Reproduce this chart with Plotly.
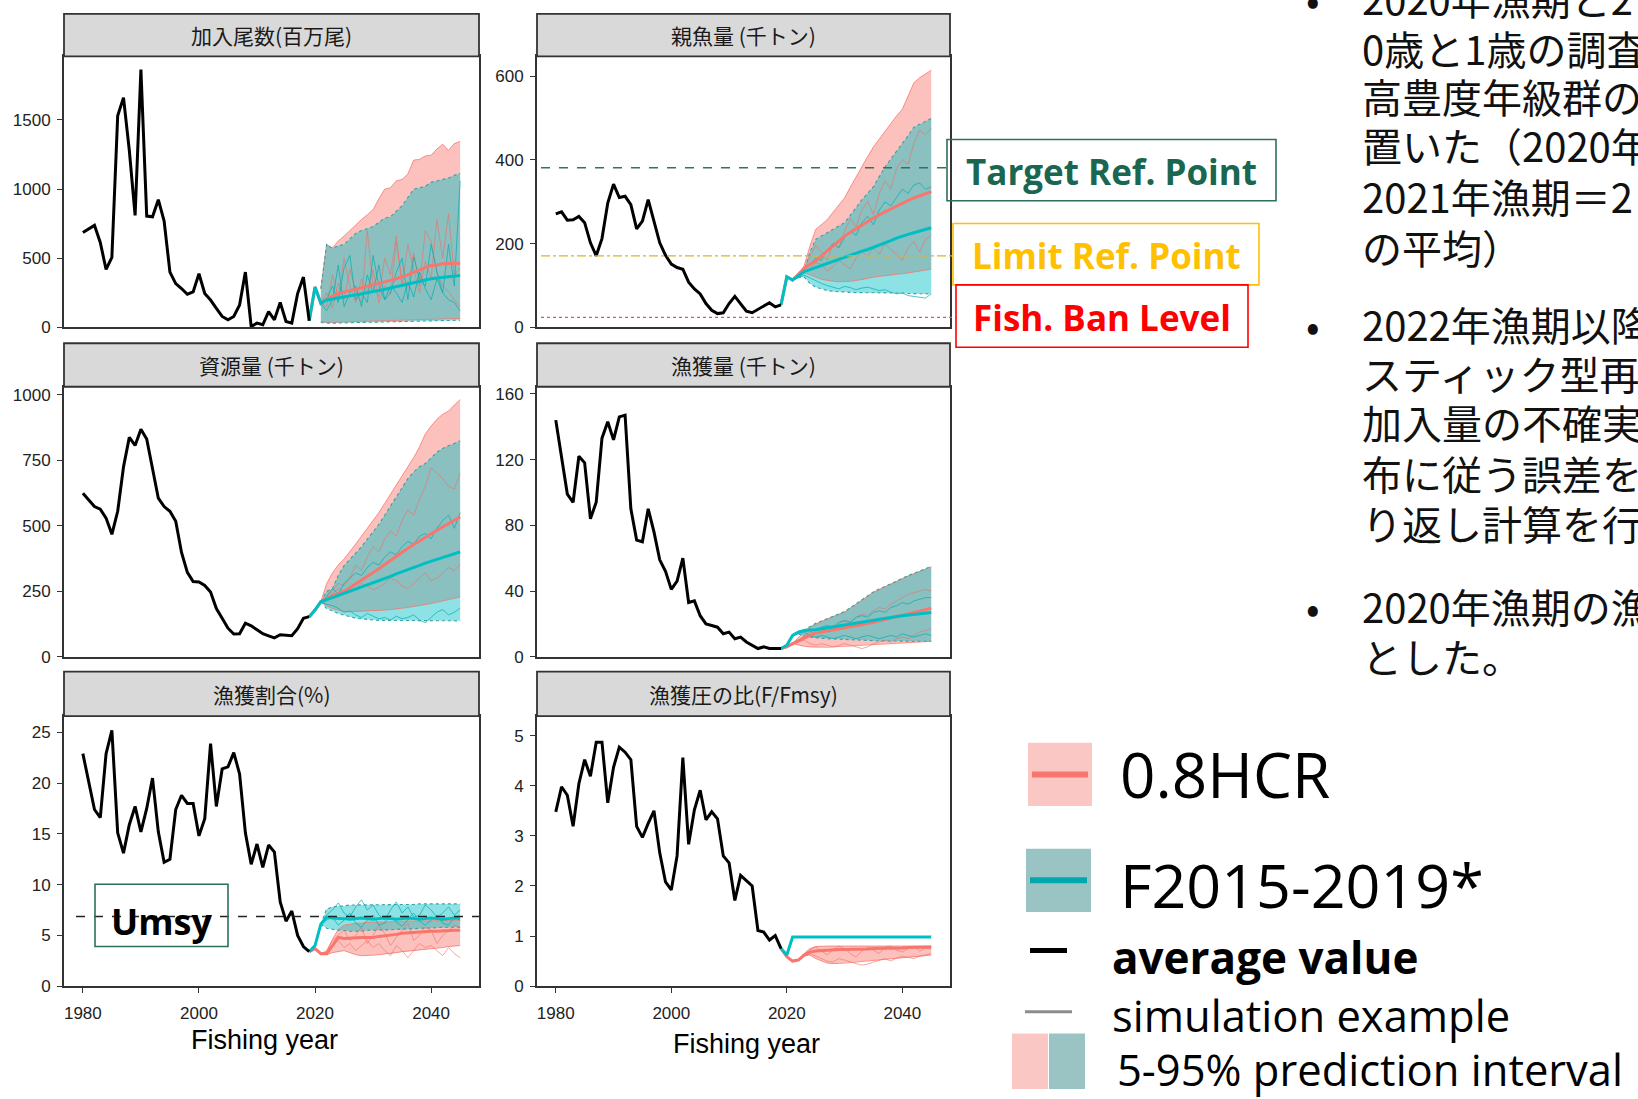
import plotly.graph_objects as go

# ---------------- data ----------------
HIST_YEARS = list(range(1980, 2020))
PROJ_YEARS = list(range(2019, 2046))
BAND_YEARS = list(range(2021, 2046))
X_TICKS = [1980, 2000, 2020, 2040]

PANEL_TITLES = ["加入尾数(百万尾)", "親魚量 (千トン)", "資源量 (千トン)",
                "漁獲量 (千トン)", "漁獲割合(%)", "漁獲圧の比(F/Fmsy)"]

# 1 recruitment
rec_hist = [686, 714, 738, 614, 419, 507, 1531, 1662, 1281, 810,
            1864, 805, 800, 924, 769, 400, 317, 281, 240, 257,
            388, 245, 198, 138, 79, 55, 79, 162, 400, 7,
            31, 19, 114, 55, 181, 43, 31, 245, 364, 48]
rec_teal = [48, 293, 174, 198, 205, 214, 221, 228, 235, 242, 250, 257, 265, 275,
            285, 295, 305, 313, 322, 332, 342, 352, 358, 362, 368, 372, 376]
rec_red = [48, 293, 174, 205, 225, 245, 255, 265, 278, 290, 298, 305, 315, 328,
           340, 352, 364, 380, 400, 415, 430, 448, 452, 460, 462, 465, 464]
rec_red_up = [280, 600, 575, 625, 660, 700, 745, 780, 815, 852, 930, 1000, 1010,
              1060, 1070, 1110, 1210, 1215, 1240, 1245, 1290, 1325, 1280, 1330, 1345]
rec_red_lo = [40, 35, 35, 38, 40, 40, 42, 42, 45, 45, 48, 48, 50, 50, 52, 52, 55,
              55, 58, 58, 60, 60, 62, 62, 65]
rec_teal_up = [280, 600, 570, 590, 600, 640, 680, 700, 715, 730, 760, 790, 800, 840,
               880, 940, 1000, 1010, 1020, 1050, 1060, 1075, 1080, 1100, 1115]
rec_teal_lo = [35, 30, 30, 32, 33, 33, 35, 35, 36, 36, 38, 38, 40, 40, 42, 42, 44,
               44, 46, 46, 48, 48, 50, 50, 52]
rec_red_sim1 = [174, 250, 140, 320, 200, 420, 260, 180, 700, 300, 220, 500, 380,
                660, 300, 600, 420, 250, 480, 350, 780, 500, 820, 380, 430]
rec_red_sim2 = [174, 150, 380, 220, 500, 300, 180, 350, 250, 420, 180, 300, 240,
                620, 330, 280, 540, 300, 700, 620, 400, 300, 260, 200, 150]
rec_teal_sim1 = [174, 200, 300, 180, 430, 520, 200, 250, 180, 520, 300, 200, 250,
                 400, 500, 200, 510, 350, 300, 600, 400, 250, 600, 300, 1060]
rec_teal_sim2 = [174, 120, 200, 450, 150, 250, 300, 150, 380, 250, 450, 200, 300,
                 250, 180, 330, 220, 400, 280, 200, 350, 250, 200, 180, 120]

# 2 spawning biomass
ssb_hist = [271, 276, 256, 257, 265, 250, 202, 171, 212, 297,
            342, 310, 313, 293, 235, 254, 305, 250, 202, 172,
            151, 143, 139, 108, 92, 80, 57, 41, 33, 35,
            57, 74, 57, 39, 35, 43, 49, 59, 49, 54]
ssb_teal = [54, 121, 113, 124, 133, 138, 143, 148, 153, 158, 163, 168, 172, 177,
            182, 186, 191, 196, 202, 207, 213, 218, 222, 226, 230, 234, 238]
ssb_red = [54, 121, 113, 126, 141, 150, 159, 171, 183, 195, 206, 218, 227, 236,
           245, 253, 261, 269, 276, 284, 291, 297, 303, 309, 314, 319, 324]
ssb_red_up = [113, 126, 147, 194, 234, 246, 257, 275, 292, 309, 335, 360, 383, 408,
              431, 450, 470, 488, 505, 521, 552, 584, 596, 605, 614]
ssb_red_lo = [113, 124, 131, 125, 120, 115, 112, 110, 109, 109, 110, 112, 114, 117,
              120, 122, 123, 125, 127, 128, 130, 132, 134, 136, 139]
ssb_teal_up = [113, 124, 135, 180, 210, 218, 226, 234, 242, 250, 268, 287, 305, 320,
               336, 360, 383, 402, 420, 439, 458, 478, 485, 492, 499]
ssb_teal_lo = [113, 120, 120, 105, 96, 92, 88, 86, 85, 84, 84, 83, 83, 83, 83, 83,
               82, 82, 82, 82, 81, 81, 80, 80, 80]
ssb_red_sim1 = [113, 125, 140, 170, 195, 180, 160, 200, 190, 230, 260, 240, 280,
                300, 270, 320, 350, 330, 380, 400, 390, 440, 470, 460, 475]
ssb_red_sim2 = [113, 120, 130, 140, 155, 150, 135, 145, 160, 150, 140, 165, 180,
                170, 190, 175, 200, 185, 175, 160, 190, 205, 180, 210, 220]
ssb_teal_sim1 = [113, 125, 138, 150, 165, 160, 185, 200, 190, 215, 230, 220, 250,
                 265, 245, 280, 300, 290, 310, 330, 320, 340, 345, 330, 335]
ssb_teal_sim2 = [113, 118, 125, 118, 110, 105, 100, 96, 92, 98, 95, 90, 94, 96, 92,
                 88, 90, 84, 80, 82, 76, 74, 72, 70, 80]
TARGET_RP = 381
LIMIT_RP = 171
BAN_RP = 24

# 3 total biomass
bio_hist = [624, 598, 573, 563, 529, 467, 555, 724, 837, 806,
            868, 831, 724, 605, 573, 555, 517, 398, 322, 287,
            285, 272, 247, 184, 147, 109, 87, 88, 128, 118,
            103, 88, 80, 72, 84, 82, 80, 107, 147, 153]
bio_teal = [153, 178, 210, 218, 226, 233, 240, 248, 256, 265, 273, 282, 290, 299,
            307, 316, 325, 333, 341, 349, 357, 365, 372, 379, 386, 393, 400]
bio_red = [153, 178, 210, 222, 233, 241, 250, 263, 277, 291, 305, 320, 336, 352,
           368, 384, 400, 414, 428, 442, 456, 470, 483, 496, 508, 521, 533]
bio_red_up = [210, 279, 320, 350, 373, 400, 430, 460, 490, 517, 550, 585, 620, 655,
              686, 720, 760, 800, 850, 880, 906, 925, 937, 960, 981]
bio_red_lo = [210, 195, 184, 178, 172, 172, 173, 173, 174, 174, 176, 178, 180, 182,
              184, 188, 192, 195, 199, 203, 208, 213, 218, 223, 228]
bio_teal_up = [210, 250, 260, 310, 348, 370, 395, 420, 448, 473, 505, 540, 575, 610,
               649, 680, 705, 725, 737, 760, 780, 795, 805, 815, 824]
bio_teal_lo = [210, 184, 175, 165, 159, 153, 147, 145, 142, 140, 139, 139, 138, 138,
               138, 138, 137, 137, 137, 137, 137, 137, 137, 137, 137]
bio_red_sim1 = [210, 230, 250, 280, 270, 300, 350, 330, 380, 420, 400, 450, 480,
                460, 520, 560, 540, 600, 650, 720, 700, 680, 650, 640, 700]
bio_red_sim2 = [210, 220, 240, 260, 250, 245, 260, 280, 270, 255, 265, 280, 300,
                290, 270, 260, 280, 300, 320, 290, 300, 320, 340, 330, 350]
bio_teal_sim1 = [210, 230, 260, 240, 280, 300, 320, 310, 340, 360, 350, 380, 400,
                 390, 420, 440, 430, 460, 470, 450, 490, 520, 540, 490, 550]
bio_teal_sim2 = [210, 200, 195, 185, 170, 175, 160, 150, 165, 155, 145, 150, 140,
                 155, 145, 150, 160, 140, 130, 150, 170, 180, 160, 170, 185]

# 4 catch
cat_hist = [144, 122, 99, 94, 122, 118, 84, 94, 133, 143,
            132, 146, 147, 90, 71, 70, 90, 76, 59, 52,
            41, 46, 60, 33, 34, 25, 20, 19, 18, 14,
            15, 11, 12, 9, 7, 5, 6, 5, 5, 5]
cat_teal = [5, 7, 13, 15, 16, 16.2, 16.5, 17.1, 17.7, 18.3, 18.9, 19.5, 20.1, 20.7,
            21.3, 21.9, 22.5, 23.0, 23.5, 24.0, 24.5, 25.0, 25.4, 25.8, 26.2, 26.6, 27.0]
cat_red = [5, 6, 8, 9.5, 11.4, 13, 14.4, 15.0, 15.6, 16.2, 16.8, 17.4, 18.1, 18.8,
           19.5, 20.2, 21.0, 21.9, 22.8, 23.7, 24.6, 25.5, 26.3, 27.1, 27.9, 28.7, 29.5]
cat_red_up = [8, 12, 15.5, 18.0, 20.0, 21.5, 23.0, 24.4, 25.8, 27.2, 29.6, 32.0, 34.4,
              36.8, 39.2, 40.9, 42.6, 44.3, 46.0, 47.7, 49.1, 50.5, 51.9, 53.3, 54.7]
cat_red_lo = [8, 7, 6.4, 6.0, 5.8, 5.8, 5.8, 6.0, 6.2, 6.4, 6.6, 6.8, 7.0, 7.2, 7.4,
              7.6, 7.8, 8.0, 8.2, 8.4, 8.6, 8.8, 9.0, 9.2, 9.4]
cat_teal_up = [13, 15.5, 16.4, 18.4, 20.4, 21.8, 23.2, 24.6, 26.0, 27.5, 29.9, 32.3,
               34.7, 37.1, 39.5, 41.2, 42.9, 44.6, 46.3, 48.0, 49.4, 50.8, 52.2, 53.6, 55.0]
cat_teal_lo = [13, 14, 12.4, 11.9, 11.4, 11.2, 11.0, 10.8, 10.6, 10.4, 10.3, 10.2,
               10.1, 10.0, 9.8, 9.7, 9.6, 9.6, 9.5, 9.4, 9.4, 9.4, 9.4, 9.4, 9.4]
cat_red_sim1 = [8, 10, 13, 15, 14, 16, 18, 17, 20, 22, 21, 24, 26, 25, 28, 30, 29,
                32, 34, 36, 38, 39, 40, 41, 40]
cat_red_sim2 = [8, 9, 10, 8, 7, 8, 7, 6, 7, 8, 7, 6, 5, 6, 8, 9, 10, 9, 11, 12, 11,
                13, 15, 16, 17]
cat_teal_sim1 = [13, 15, 16, 17, 16, 18, 19, 18, 21, 22, 21, 24, 25, 24, 27, 28, 27,
                 30, 31, 33, 32, 34, 35, 36, 36]
cat_teal_sim2 = [13, 14, 15, 13, 12, 13, 12, 11, 12, 13, 12, 11, 12, 13, 12, 11, 12,
                 13, 12, 14, 13, 12, 13, 14, 13]

# 5 exploitation rate (%)
u_hist = [22.9, 20.1, 17.4, 16.6, 22.9, 25.2, 15.1, 13.1, 15.9, 17.7,
          15.2, 17.5, 20.5, 15.2, 12.2, 12.5, 17.4, 18.8, 18.0, 18.0,
          14.8, 16.5, 23.9, 17.7, 21.4, 21.6, 23.0, 20.9, 15.1, 12.0,
          14.0, 11.7, 13.9, 13.2, 8.3, 6.4, 7.4, 5.0, 3.9, 3.4]
u_teal = [3.4, 4.0, 6.1, 6.8, 6.7, 6.7, 6.65, 6.6, 6.65, 6.7, 6.65, 6.6, 6.65, 6.7,
          6.65, 6.6, 6.65, 6.7, 6.65, 6.6, 6.65, 6.7, 6.65, 6.6, 6.65, 6.7, 6.65]
u_red = [3.4, 3.7, 3.2, 3.2, 4.0, 4.8, 4.7, 4.75, 4.8, 4.8, 4.8, 4.8, 4.9, 4.95, 5.0,
         5.1, 5.2, 5.25, 5.3, 5.3, 5.35, 5.4, 5.4, 5.45, 5.5, 5.5, 5.5]
u_red_up = [3.2, 3.4, 4.6, 5.6, 6.0, 6.1, 6.2, 6.2, 6.3, 6.3, 6.3, 6.3, 6.35, 6.35,
            6.4, 6.4, 6.4, 6.4, 6.4, 6.4, 6.45, 6.45, 6.5, 6.5, 6.5]
u_red_lo = [3.2, 3.1, 3.3, 3.4, 3.5, 3.3, 3.1, 3.0, 3.0, 3.05, 3.1, 3.15, 3.2, 3.3,
            3.4, 3.45, 3.5, 3.55, 3.6, 3.7, 3.75, 3.8, 3.9, 3.95, 4.0]
u_teal_up = [6.1, 7.6, 7.8, 7.9, 7.9, 8.0, 8.0, 8.0, 8.0, 8.0, 8.0, 8.0, 8.0, 8.0,
             8.05, 8.05, 8.05, 8.1, 8.1, 8.1, 8.1, 8.1, 8.1, 8.1, 8.1]
u_teal_lo = [6.1, 5.7, 5.6, 5.5, 5.5, 5.4, 5.4, 5.4, 5.5, 5.5, 5.5, 5.5, 5.55, 5.6,
             5.6, 5.6, 5.65, 5.7, 5.7, 5.7, 5.75, 5.8, 5.8, 5.8, 5.8]
u_red_sim1 = [3.2, 3.5, 4.5, 5.0, 5.5, 4.5, 5.0, 5.8, 4.2, 5.0, 6.0, 5.2, 4.0, 4.8,
              5.5, 6.2, 4.5, 5.0, 5.8, 5.5, 4.2, 5.0, 5.5, 6.0, 5.8]
u_red_sim2 = [3.2, 3.3, 4.0, 4.5, 3.8, 4.2, 3.5, 4.0, 4.5, 3.8, 4.2, 3.5, 3.0, 4.0,
              3.5, 2.8, 3.5, 4.2, 3.8, 4.0, 3.5, 3.0, 3.8, 3.2, 2.8]
u_teal_sim1 = [6.1, 7.0, 7.5, 8.2, 7.2, 6.8, 7.8, 8.5, 7.5, 8.0, 7.0, 6.5, 7.5, 8.3,
               7.2, 7.8, 6.8, 7.0, 8.0, 7.5, 6.8, 7.2, 7.8, 7.0, 7.5]
u_teal_sim2 = [6.1, 6.5, 6.8, 6.0, 6.5, 7.2, 6.2, 5.8, 6.5, 7.0, 6.0, 6.2, 7.0, 6.3,
               5.9, 6.6, 7.2, 6.4, 6.0, 6.5, 7.0, 6.2, 6.0, 6.8, 6.5]
UMSY = 6.86

# 6 F/Fmsy
f_hist = [3.48, 3.98, 3.81, 3.19, 4.04, 4.52, 4.19, 4.87, 4.87, 3.66,
          4.37, 4.77, 4.67, 4.52, 3.19, 2.97, 3.25, 3.50, 2.66, 2.08,
          1.92, 2.60, 4.56, 2.83, 3.52, 3.91, 3.32, 3.48, 3.34, 2.60,
          2.46, 1.71, 2.21, 2.10, 2.00, 1.11, 1.08, 0.92, 1.01, 0.75]
f_teal = [0.75, 0.62, 0.98, 0.98, 0.98, 0.98, 0.98, 0.98, 0.98, 0.98, 0.98, 0.98,
          0.98, 0.98, 0.98, 0.98, 0.98, 0.98, 0.98, 0.98, 0.98, 0.98, 0.98, 0.98,
          0.98, 0.98, 0.98]
f_red = [0.75, 0.59, 0.50, 0.52, 0.62, 0.68, 0.70, 0.71, 0.72, 0.72, 0.73, 0.73,
         0.73, 0.74, 0.74, 0.74, 0.75, 0.75, 0.75, 0.76, 0.76, 0.76, 0.77, 0.77,
         0.77, 0.78, 0.78]
f_red_up = [0.50, 0.52, 0.65, 0.75, 0.79, 0.80, 0.80, 0.80, 0.80, 0.80, 0.80, 0.80,
            0.80, 0.80, 0.80, 0.80, 0.80, 0.80, 0.80, 0.80, 0.80, 0.80, 0.80, 0.80, 0.80]
f_red_lo = [0.50, 0.52, 0.60, 0.62, 0.55, 0.50, 0.46, 0.45, 0.45, 0.46, 0.47, 0.48,
            0.49, 0.50, 0.51, 0.52, 0.53, 0.54, 0.55, 0.56, 0.57, 0.58, 0.59, 0.60, 0.62]
f_red_sim1 = [0.50, 0.52, 0.62, 0.72, 0.78, 0.70, 0.62, 0.72, 0.80, 0.75, 0.65, 0.58,
              0.70, 0.78, 0.72, 0.65, 0.78, 0.80, 0.72, 0.68, 0.75, 0.80, 0.70, 0.76, 0.74]
f_red_sim2 = [0.50, 0.52, 0.60, 0.65, 0.60, 0.55, 0.50, 0.48, 0.55, 0.52, 0.48, 0.45,
              0.42, 0.44, 0.48, 0.52, 0.55, 0.50, 0.56, 0.60, 0.58, 0.55, 0.60, 0.62, 0.65]

Y_TICKS = [[0, 500, 1000, 1500], [0, 200, 400, 600], [0, 250, 500, 750, 1000],
           [0, 40, 80, 120, 160], [0, 5, 10, 15, 20, 25], [0, 1, 2, 3, 4, 5]]
Y_MAX = [1960, 647, 1030, 164.3, 26.6, 5.39]

LEGEND_LABELS = ["0.8HCR", "F2015-2019*", "average value", "simulation example",
                 "5-95% prediction interval"]
REF_LABELS = ["Target Ref. Point", "Limit Ref. Point", "Fish. Ban Level"]
NOTE_LINES = ["2020年漁期と2", "0歳と1歳の調査", "高豊度年級群の", "置いた（2020年",
              "2021年漁期＝2", "の平均）", "2022年漁期以降", "スティック型再",
              "加入量の不確実", "布に従う誤差を", "り返し計算を行", "2020年漁期の漁",
              "とした。"]

panels = [
    dict(hist=rec_hist, teal=rec_teal, red=rec_red, ru=rec_red_up, rl=rec_red_lo,
         tu=rec_teal_up, tl=rec_teal_lo, rs=[rec_red_sim1, rec_red_sim2],
         ts=[rec_teal_sim1, rec_teal_sim2]),
    dict(hist=ssb_hist, teal=ssb_teal, red=ssb_red, ru=ssb_red_up, rl=ssb_red_lo,
         tu=ssb_teal_up, tl=ssb_teal_lo, rs=[ssb_red_sim1, ssb_red_sim2],
         ts=[ssb_teal_sim1, ssb_teal_sim2]),
    dict(hist=bio_hist, teal=bio_teal, red=bio_red, ru=bio_red_up, rl=bio_red_lo,
         tu=bio_teal_up, tl=bio_teal_lo, rs=[bio_red_sim1, bio_red_sim2],
         ts=[bio_teal_sim1, bio_teal_sim2]),
    dict(hist=cat_hist, teal=cat_teal, red=cat_red, ru=cat_red_up, rl=cat_red_lo,
         tu=cat_teal_up, tl=cat_teal_lo, rs=[cat_red_sim1, cat_red_sim2],
         ts=[cat_teal_sim1, cat_teal_sim2]),
    dict(hist=u_hist, teal=u_teal, red=u_red, ru=u_red_up, rl=u_red_lo,
         tu=u_teal_up, tl=u_teal_lo, rs=[u_red_sim1, u_red_sim2],
         ts=[u_teal_sim1, u_teal_sim2]),
    dict(hist=f_hist, teal=f_teal, red=f_red, ru=f_red_up, rl=f_red_lo,
         tu=None, tl=None, rs=[f_red_sim1, f_red_sim2], ts=[]),
]

# ---------------- layout helpers ----------------
W, H = 1638, 1099
def PX(x): return x / W
def PY(y): return 1 - y / H

COLS = [(64, 479), (537, 950)]
ROWS = [(55, 329), (389, 662), (722, 995)]
STRIPS = [(12, 55), (345, 389), (677, 722)]

RED = "#F8766D"
TEAL = "#00BFC4"
RED_FILL = "rgba(248,118,109,0.45)"
TEAL_FILL = "rgba(0,191,196,0.45)"

fig = go.Figure()
layout = dict(width=W, height=H, margin=dict(l=0, r=0, t=0, b=0),
              paper_bgcolor="white", plot_bgcolor="white", showlegend=False)
shapes = []
annotations = []

for i, p in enumerate(panels):
    r, c = i // 2, i % 2
    n = i + 1
    xa = "x" if n == 1 else f"x{n}"
    ya = "y" if n == 1 else f"y{n}"
    kw = dict(xaxis=xa, yaxis=ya, hoverinfo="skip", showlegend=False)

    # bands
    fig.add_trace(go.Scatter(x=BAND_YEARS + BAND_YEARS[::-1], y=p["ru"] + p["rl"][::-1],
                             fill="toself", fillcolor=RED_FILL, line=dict(width=0),
                             mode="lines", **kw))
    if p["tu"] is not None:
        fig.add_trace(go.Scatter(x=BAND_YEARS + BAND_YEARS[::-1], y=p["tu"] + p["tl"][::-1],
                                 fill="toself", fillcolor=TEAL_FILL, line=dict(width=0),
                                 mode="lines", **kw))
    for edge in (p["ru"], p["rl"]):
        fig.add_trace(go.Scatter(x=BAND_YEARS, y=edge, mode="lines",
                                 line=dict(color=RED, width=0.8), **kw))
    if p["tu"] is not None:
        for edge in (p["tu"], p["tl"]):
            fig.add_trace(go.Scatter(x=BAND_YEARS, y=edge, mode="lines",
                                     line=dict(color="#3aa0a3", width=1.1, dash="dot"), **kw))
    # simulations
    for s in p["rs"]:
        fig.add_trace(go.Scatter(x=BAND_YEARS, y=s, mode="lines",
                                 line=dict(color="rgba(240,110,100,0.6)", width=1), **kw))
    for s in p["ts"]:
        fig.add_trace(go.Scatter(x=BAND_YEARS, y=s, mode="lines",
                                 line=dict(color="rgba(0,175,180,0.7)", width=1), **kw))
    # means
    fig.add_trace(go.Scatter(x=PROJ_YEARS, y=p["red"], mode="lines",
                             line=dict(color=RED, width=3), **kw))
    fig.add_trace(go.Scatter(x=PROJ_YEARS, y=p["teal"], mode="lines",
                             line=dict(color=TEAL, width=3), **kw))
    fig.add_trace(go.Scatter(x=HIST_YEARS, y=p["hist"], mode="lines",
                             line=dict(color="black", width=3), **kw))

    x0, x1 = COLS[c]
    y0, y1 = ROWS[r]
    xkey = "xaxis" if n == 1 else f"xaxis{n}"
    ykey = "yaxis" if n == 1 else f"yaxis{n}"
    bottom = (r == 2)
    layout[xkey] = dict(domain=[PX(x0), PX(x1)], anchor=ya, range=[1976.75, 2048.25],
                        tickvals=X_TICKS, showticklabels=bottom,
                        ticks="outside" if bottom else "", ticklen=5, tickwidth=1.2,
                        tickcolor="#333", showgrid=False, zeroline=False,
                        showline=True, mirror=True, linecolor="#333", linewidth=1.8,
                        ticklabelstandoff=6,
                        tickfont=dict(family="Liberation Sans, Arial", size=17, color="#222"))
    layout[ykey] = dict(domain=[PY(y1), PY(y0)], anchor=xa, range=[0, Y_MAX[i]],
                        tickvals=Y_TICKS[i], ticks="outside", ticklen=5, tickwidth=1.2,
                        tickcolor="#333", showgrid=False, zeroline=False,
                        showline=True, mirror=True, linecolor="#333", linewidth=1.8,
                        ticklabelstandoff=3,
                        tickfont=dict(family="Liberation Sans, Arial", size=17, color="#222"))
    # strip
    s0, s1 = STRIPS[r]
    shapes.append(dict(type="rect", xref="paper", yref="paper", x0=PX(x0), x1=PX(x1),
                       y0=PY(s1), y1=PY(s0), fillcolor="#d9d9d9",
                       line=dict(color="#333", width=1.8), layer="above"))
    annotations.append(dict(x=PX((x0 + x1) / 2), y=PY((s0 + s1) / 2), xref="paper",
                            yref="paper", text=PANEL_TITLES[i], showarrow=False,
                            xanchor="center", yanchor="middle",
                            font=dict(family="Noto Sans CJK JP", size=21, color="#1a1a1a")))

# reference lines (SSB panel)
shapes.append(dict(type="line", xref="paper", yref="y2", x0=PX(541), x1=PX(947),
                   y0=TARGET_RP, y1=TARGET_RP, line=dict(color="#3b6e62", width=1.6, dash="dash")))
shapes.append(dict(type="line", xref="paper", yref="y2", x0=PX(541), x1=PX(953),
                   y0=LIMIT_RP, y1=LIMIT_RP, line=dict(color="#d9b526", width=1.3, dash="dashdot")))
shapes.append(dict(type="line", xref="paper", yref="y2", x0=PX(541), x1=PX(956),
                   y0=BAN_RP, y1=BAN_RP, line=dict(color="#e2506a", width=1.3, dash="dot")))
# Umsy line
shapes.append(dict(type="line", xref="paper", yref="y5", x0=PX(76), x1=PX(479),
                   y0=UMSY, y1=UMSY, line=dict(color="#222", width=1.5, dash="dash")))

# reference boxes
REF_BOXES = [(947, 1276, 139, 201, "#2d6e5c", "#1a6650"),
             (953, 1259, 224, 286, "#ffc000", "#ffc000"),
             (956, 1248, 286, 349, "#ff0000", "#ff0000")]
for (bx0, bx1, by0, by1, bc, tc), lab in zip(REF_BOXES, REF_LABELS):
    shapes.append(dict(type="rect", xref="paper", yref="paper", x0=PX(bx0), x1=PX(bx1),
                       y0=PY(by1), y1=PY(by0), line=dict(color=bc, width=1.6),
                       fillcolor="rgba(0,0,0,0)"))
    annotations.append(dict(x=PX((bx0 + bx1) / 2), y=PY((by0 + by1) / 2 + 1), xref="paper",
                            yref="paper", text=f"<b>{lab}</b>", showarrow=False,
                            xanchor="center", yanchor="middle",
                            font=dict(family="Open Sans", size=35, color=tc)))
# Umsy box
shapes.append(dict(type="rect", xref="paper", yref="paper", x0=PX(95), x1=PX(228),
                   y0=PY(955), y1=PY(892), line=dict(color="#2d6e5c", width=1.6),
                   fillcolor="rgba(0,0,0,0)"))
annotations.append(dict(x=PX(161), y=PY(930), xref="paper", yref="paper",
                        text="<b>Umsy</b>", showarrow=False, xanchor="center",
                        yanchor="middle", font=dict(family="Open Sans", size=36, color="black")))

# x titles
for cx, cy in ((264, 1049), (746, 1053)):
    annotations.append(dict(x=PX(cx), y=PY(cy), xref="paper", yref="paper",
                            text="Fishing year", showarrow=False, xanchor="center",
                            yanchor="middle",
                            font=dict(family="Liberation Sans, Arial", size=27, color="black")))

# legend (drawn manually)
shapes += [
    dict(type="rect", xref="paper", yref="paper", x0=PX(1028), x1=PX(1092), y0=PY(813),
         y1=PY(749), fillcolor="rgb(251,199,196)", line=dict(width=0)),
    dict(type="line", xref="paper", yref="paper", x0=PX(1032), x1=PX(1088), y0=PY(781),
         y1=PY(781), line=dict(color=RED, width=6)),
    dict(type="rect", xref="paper", yref="paper", x0=PX(1026), x1=PX(1091), y0=PY(920),
         y1=PY(856), fillcolor="rgb(154,196,196)", line=dict(width=0)),
    dict(type="line", xref="paper", yref="paper", x0=PX(1030), x1=PX(1087), y0=PY(888),
         y1=PY(888), line=dict(color="#00A8AE", width=6)),
    dict(type="line", xref="paper", yref="paper", x0=PX(1030), x1=PX(1067), y0=PY(959),
         y1=PY(959), line=dict(color="black", width=5)),
    dict(type="line", xref="paper", yref="paper", x0=PX(1025), x1=PX(1072), y0=PY(1021),
         y1=PY(1021), line=dict(color="#8c8c8c", width=3)),
    dict(type="rect", xref="paper", yref="paper", x0=PX(1012), x1=PX(1048), y0=PY(1099),
         y1=PY(1043), fillcolor="rgb(251,199,196)", line=dict(width=0)),
    dict(type="rect", xref="paper", yref="paper", x0=PX(1049), x1=PX(1085), y0=PY(1099),
         y1=PY(1043), fillcolor="rgb(154,196,196)", line=dict(width=0)),
]
LEG_POS = [(1118, 781, 62, False), (1118, 892, 61, False), (1110, 966, 44, True),
           (1110, 1025, 43.5, False), (1115, 1079, 43.5, False)]
for (lx, ly, fs, bold), lab in zip(LEG_POS, LEGEND_LABELS):
    annotations.append(dict(x=PX(lx), y=PY(ly), xref="paper", yref="paper",
                            text=f"<b>{lab}</b>" if bold else lab, showarrow=False,
                            xanchor="left", yanchor="middle",
                            font=dict(family="Open Sans", size=fs, color="black")))

# right-hand notes
NOTE_Y = [-4, 47, 95, 145, 196, 248, 326, 375, 425, 476, 527, 611, 661]
for ny, line in zip(NOTE_Y, NOTE_LINES):
    annotations.append(dict(x=PX(1360), y=PY(ny), xref="paper", yref="paper", text=line,
                            showarrow=False, xanchor="left", yanchor="middle",
                            font=dict(family="Noto Sans CJK JP", size=40, color="#111")))
for by in (-4, 326, 611):
    annotations.append(dict(x=PX(1313), y=PY(by), xref="paper", yref="paper", text="•",
                            showarrow=False, xanchor="center", yanchor="middle",
                            font=dict(family="Noto Sans CJK JP", size=40, color="#111")))

layout["shapes"] = shapes
layout["annotations"] = annotations
fig.update_layout(**layout)
fig.write_html("out.html")
